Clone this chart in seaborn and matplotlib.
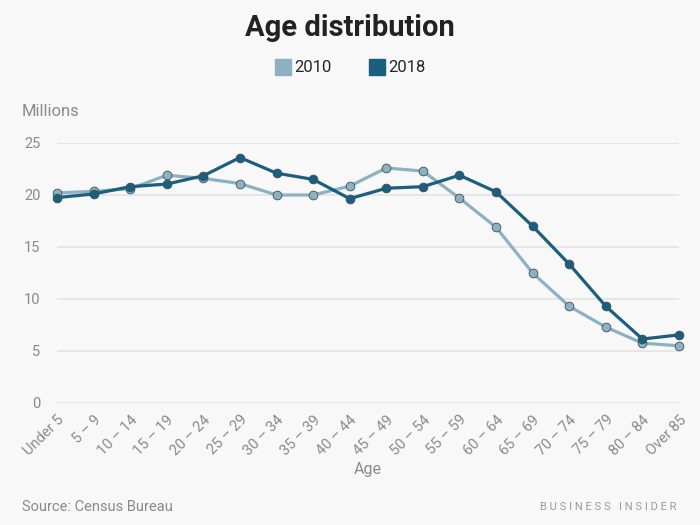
import pandas as pd
import matplotlib.pyplot as plt
import seaborn as sns
from matplotlib.lines import Line2D

# age groups on the x axis
ages = ["Under 5", "5 – 9", "10 – 14", "15 – 19", "20 – 24", "25 – 29", "30 – 34",
        "35 – 39", "40 – 44", "45 – 49", "50 – 54", "55 – 59", "60 – 64", "65 – 69",
        "70 – 74", "75 – 79", "80 – 84", "Over 85"]

# population in millions
pop_2010 = [20.2, 20.35, 20.6, 21.9, 21.6, 21.1, 20.0, 20.0, 20.85, 22.6, 22.3,
            19.7, 16.9, 12.5, 9.3, 7.3, 5.75, 5.5]
pop_2018 = [19.75, 20.1, 20.8, 21.05, 21.85, 23.6, 22.1, 21.5, 19.65, 20.65, 20.8,
            21.9, 20.3, 17.0, 13.35, 9.3, 6.15, 6.55]

years = ["2010", "2018"]
colors = {"2010": "#8db1c2", "2018": "#1b5f7f"}
BG = "#f8f8f8"
GRAY = "#8a8a8a"


def get_data():
    frames = []
    for year, vals in zip(years, [pop_2010, pop_2018]):
        frames.append(pd.DataFrame({"pos": range(len(ages)), "age": ages,
                                    "value": vals, "year": year}))
    return pd.concat(frames, ignore_index=True)


def create_graph(data):
    sns.set_theme(style="white")
    plt.rcParams['font.family'] = ['Roboto', 'DejaVu Sans']

    fig = plt.figure(figsize=(7, 5.25), dpi=100, facecolor=BG)
    ax = fig.add_axes([57 / 700, 1 - 403 / 525, 622 / 700, 260 / 525])
    ax.set_facecolor(BG)

    sns.lineplot(data=data, x="pos", y="value", hue="year", palette=colors,
                 marker="o", markersize=6.3, markeredgecolor="#3d4f59",
                 markeredgewidth=0.6, linewidth=2.3, ax=ax, legend=False,
                 clip_on=False, zorder=3)

    ax.set_xlim(0, len(ages) - 1)
    ax.set_ylim(0, 25)
    ax.set_yticks([0, 5, 10, 15, 20, 25])
    ax.set_xticks(range(len(ages)))
    ax.set_xticklabels(ages, rotation=45, ha="right", rotation_mode="anchor")
    ax.tick_params(axis="both", length=0, labelsize=10.5, labelcolor=GRAY)
    ax.tick_params(axis="y", pad=12)
    ax.tick_params(axis="x", pad=7)
    ax.grid(axis="y", color="#e3e3e3", linewidth=1.2, zorder=0)
    for s in ax.spines.values():
        s.set_visible(False)
    ax.set_xlabel("Age", color=GRAY, fontsize=11.5, labelpad=3)
    ax.set_ylabel("")

    fig.text(0.5, 1 - 28 / 525, "Age distribution", ha="center", va="center",
             fontsize=21, fontweight="bold", color="#222222")
    fig.text(22 / 700, 1 - 112 / 525, "Millions", ha="left", va="center",
             fontsize=12, color=GRAY)
    fig.text(22 / 700, 1 - 507 / 525, "Source: Census Bureau", ha="left",
             va="center", fontsize=10.5, color=GRAY)
    fig.text(676 / 700, 1 - 507 / 525, "B U S I N E S S   I N S I D E R",
             ha="right", va="center", fontsize=8, color="#9a9a9a")

    handles = [Line2D([], [], marker="s", linestyle="", markersize=11,
                      color=colors[y]) for y in years]
    fig.legend(handles, years, loc="center", bbox_to_anchor=(0.5, 1 - 68 / 525),
               ncol=2, frameon=False, fontsize=12, handletextpad=0.2,
               columnspacing=2.2, handlelength=1.0)

    fig.savefig("out.png", dpi=100, facecolor=BG)


if __name__ == '__main__':
    create_graph(get_data())
